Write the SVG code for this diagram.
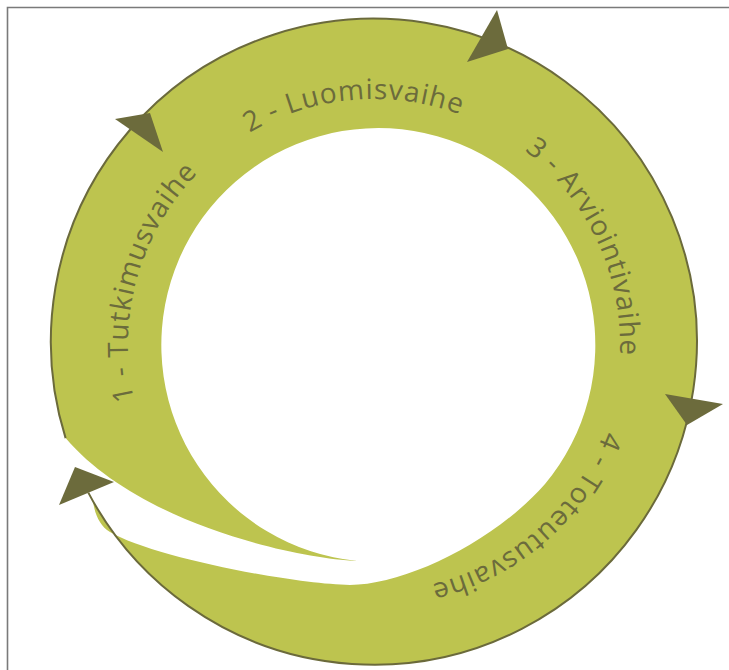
<svg xmlns="http://www.w3.org/2000/svg" width="729" height="670" viewBox="0 0 729 670">
  <style>
    .frame { stroke: #7a7a7a; stroke-width: 1.6; fill: none; }
    .band { fill: #bdc44f; }
    .rim { fill: none; stroke: #6b6a3b; stroke-width: 2; }
    .head { fill: #6c6b3c; }
    .label { font-family: "Open Sans", "Noto Sans", "DejaVu Sans", sans-serif; font-size: 28px; letter-spacing: 1px; fill: #6b6b3c; text-anchor: middle; }
  </style>
  <defs>
    <!-- baseline circle for the phase names, running clockwise from the bottom -->
    <path id="labelCircle" d="M 374 591 A 246 246 0 1 1 374 99 A 246 246 0 1 1 374 591"/>
  </defs>

  <!-- page frame (top and left edges) -->
  <path class="frame" d="M 7.5 670 V 7.5 H 729"/>

  <g id="ring">
    <!-- the cycle band: full ring that opens at lower left into a tapering tail -->
    <path class="band" d="M 65.6 438.1 A 323 323 0 1 1 92.9 501.1 C 95 515, 100 526, 110 532 C 150 556, 290 584, 350 585 C 405 585, 494 542, 545 484 A 217 217 0 1 0 357 561 C 285 557, 135 520, 65.6 438.1 Z"/>
    <path class="rim" d="M 65.6 438.1 A 323 323 0 1 1 88.3 492.6"/>
  </g>

  <g id="connectors">
    <polygon class="head" points="497,10 467,62 508,49"/>
    <polygon class="head" points="115,119 163,152 150,113"/>
    <polygon class="head" points="665,394 723,404 687,425"/>
    <polygon class="head" points="59,505 114,482 75,467"/>
  </g>

  <g id="phase-1">
    <text class="label"><textPath href="#labelCircle" startOffset="453.8">1 - Tutkimusvaihe</textPath></text>
  </g>
  <g id="phase-2">
    <text class="label"><textPath href="#labelCircle" startOffset="751.8">2 - Luomisvaihe</textPath></text>
  </g>
  <g id="phase-3">
    <text class="label"><textPath href="#labelCircle" startOffset="1052.3">3 - Arviointivaihe</textPath></text>
  </g>
  <g id="phase-4">
    <text class="label"><textPath href="#labelCircle" startOffset="1367.5">4 - Toteutusvaihe</textPath></text>
  </g>
</svg>
